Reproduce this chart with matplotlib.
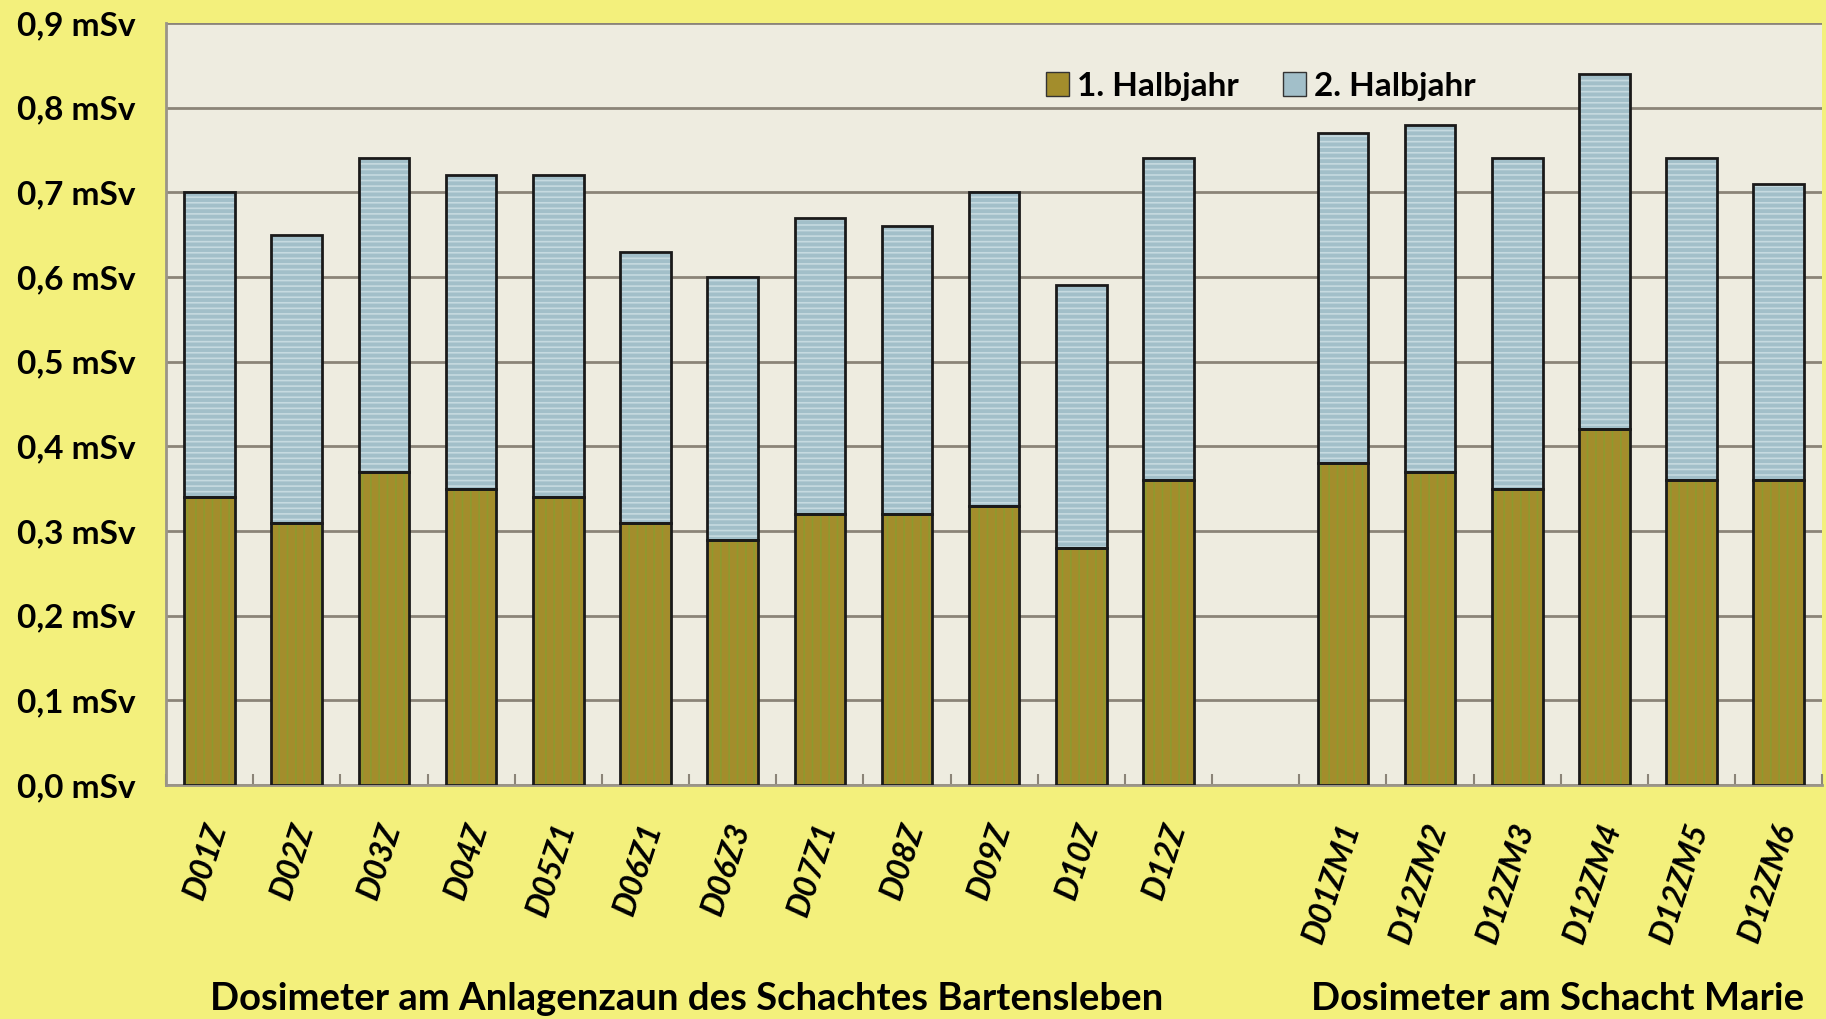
import numpy as np
import matplotlib.pyplot as plt
import matplotlib.transforms as mtransforms
from matplotlib.patches import Patch

plt.rcParams['font.family'] = ['Lato', 'DejaVu Sans']
plt.rcParams['hatch.linewidth'] = 1.2

# data
labels_zaun = ['D01Z', 'D02Z', 'D03Z', 'D04Z', 'D05Z1', 'D06Z1', 'D06Z3', 'D07Z1',
               'D08Z', 'D09Z', 'D10Z', 'D12Z']
labels_marie = ['D01ZM1', 'D12ZM2', 'D12ZM3', 'D12ZM4', 'D12ZM5', 'D12ZM6']
halbjahr1 = [0.34, 0.31, 0.37, 0.35, 0.34, 0.31, 0.29, 0.32, 0.32, 0.33, 0.28, 0.36,
             0.38, 0.37, 0.35, 0.42, 0.36, 0.36]
halbjahr2 = [0.36, 0.34, 0.37, 0.37, 0.38, 0.32, 0.31, 0.35, 0.34, 0.37, 0.31, 0.38,
             0.39, 0.41, 0.39, 0.42, 0.38, 0.35]
yticks = [0.0, 0.1, 0.2, 0.3, 0.4, 0.5, 0.6, 0.7, 0.8, 0.9]
group_titles = ['Dosimeter am Anlagenzaun des Schachtes Bartensleben',
                'Dosimeter am Schacht Marie']

labels = labels_zaun + labels_marie
# one empty slot between the two groups
x = np.array(list(range(len(labels_zaun))) +
             [len(labels_zaun) + 1 + i for i in range(len(labels_marie))])
h1 = np.array(halbjahr1)
h2 = np.array(halbjahr2)

bg = '#f3f07c'
c1, c1_hatch = '#a38d2c', '#8e9a2e'
c2, c2_hatch = '#a2bfc9', '#c6dae0'

fig = plt.figure(figsize=(18.26, 10.19), dpi=100, facecolor=bg)
ax = fig.add_axes([0.0909, 0.2296, 0.9071, 0.7478])
ax.set_facecolor('#eeece0')

w = 0.58
ax.bar(x, h1, w, color=c1, edgecolor=c1_hatch, hatch='||', linewidth=0, zorder=2)
ax.bar(x, h2, w, bottom=h1, color=c2, edgecolor=c2_hatch, hatch='---', linewidth=0, zorder=2)
ax.bar(x, h1, w, fill=False, edgecolor='#1a1a1a', linewidth=2, zorder=3)
ax.bar(x, h2, w, bottom=h1, fill=False, edgecolor='#1a1a1a', linewidth=2, zorder=3)

ax.set_xlim(-0.5, len(labels_zaun) + len(labels_marie) + 0.5)
ax.set_ylim(0, 0.9)
ax.set_yticks(yticks)
ax.set_yticklabels([('%.1f mSv' % v).replace('.', ',') for v in yticks],
                   fontsize=24, fontweight='bold')
ax.yaxis.grid(True, color='#8b8478', linewidth=2)
ax.set_axisbelow(True)
ax.tick_params(axis='y', length=0, pad=22)

ax.set_xticks(x)
ax.set_xticklabels(labels, rotation=72, ha='right', va='center', rotation_mode='anchor',
                   fontsize=23, fontweight='bold', fontstyle='italic')
ax.tick_params(axis='x', length=0, pad=28)
# nudge the rotated labels a bit to the right, like in the original
shift = mtransforms.ScaledTranslation(8 / 100, 0, fig.dpi_scale_trans)
for lbl in ax.get_xticklabels():
    lbl.set_transform(lbl.get_transform() + shift)
ax.set_xticks(np.arange(-0.5, len(labels_zaun) + len(labels_marie) + 1, 1), minor=True)
ax.tick_params(axis='x', which='minor', direction='in', length=8, color='#8b8478', width=1.5)

for s in ['top', 'right']:
    ax.spines[s].set_visible(False)
for s in ['left', 'bottom']:
    ax.spines[s].set_color('#9a9488')
    ax.spines[s].set_linewidth(2)

handles = [Patch(facecolor=c1, edgecolor='#333333', label='1. Halbjahr'),
           Patch(facecolor=c2, edgecolor='#333333', label='2. Halbjahr')]
ax.legend(handles=handles, loc='center', bbox_to_anchor=(0.661, 0.917), ncol=2,
          frameon=False, prop={'size': 24, 'weight': 'bold'}, handlelength=0.7,
          handleheight=0.7, handletextpad=0.25, columnspacing=1.3)

fig.text(687 / 1826, 1 - 999 / 1019, group_titles[0], ha='center', va='center',
         fontsize=27.5, fontweight='bold')
fig.text(1558 / 1826, 1 - 999 / 1019, group_titles[1], ha='center', va='center',
         fontsize=27.5, fontweight='bold')

fig.savefig('out.png', dpi=100, facecolor=bg)
